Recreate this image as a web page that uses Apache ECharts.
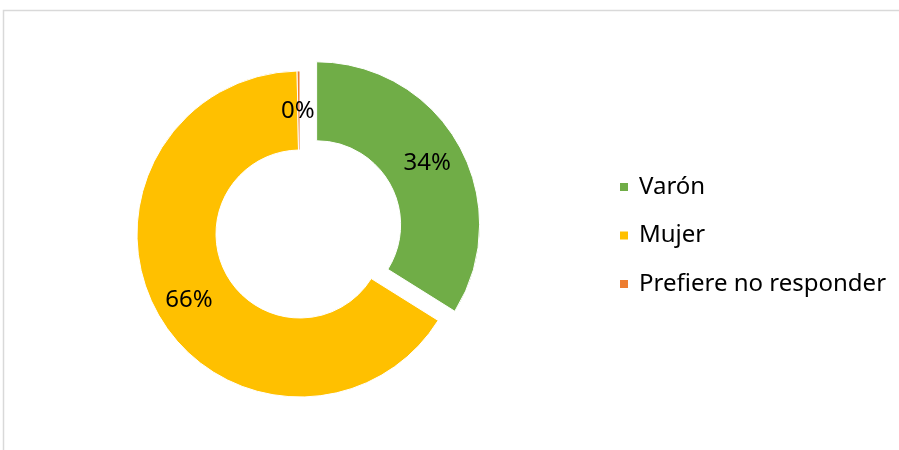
<!DOCTYPE html>
<html>
<head>
<meta charset="utf-8">
<script src="https://cdn.jsdelivr.net/npm/echarts@6/dist/echarts.min.js"></script>
<style>
  html, body { margin: 0; padding: 0; background: #fff; }
  #chart-container { width: 899px; height: 450px; }
</style>
</head>
<body>
<div id="chart-container"></div>
<script>
// datos del gráfico
var categories = ['Varón', 'Mujer', 'Prefiere no responder'];
var counts = [120, 233, 1];
var colors = ['#70AD47', '#FFC000', '#ED7D31'];

var dom = document.getElementById('chart-container');
var myChart = echarts.init(dom, null, { renderer: 'canvas' });

var pieData = categories.map(function (name, i) {
  return {
    name: name,
    value: counts[i],
    selected: i === 0, // solo "Varón" separado
    itemStyle: { color: colors[i] }
  };
});

var option = {
  animation: false,
  textStyle: { fontFamily: 'Noto Sans' },
  graphic: [
    {
      type: 'rect',
      shape: { x: 3.5, y: 10.5, width: 1000, height: 1000 },
      style: { fill: 'none', stroke: '#d9d9d9', lineWidth: 1.5 },
      silent: true
    }
  ],
  legend: {
    orient: 'vertical',
    left: 613,
    top: 170,
    itemWidth: 10,
    itemHeight: 10,
    itemGap: 24.5,
    icon: 'rect',
    textStyle: {
      fontSize: 24,
      lineHeight: 24,
      color: '#000',
      fontFamily: 'Noto Sans',
      padding: [0, 0, 0, 5]
    },
    data: categories
  },
  series: [
    {
      type: 'pie',
      center: [300, 234],
      radius: [84, 163],
      startAngle: 90,
      clockwise: true,
      selectedMode: 'multiple',
      selectedOffset: 19,
      percentPrecision: 0,
      avoidLabelOverlap: false,
      silent: true,
      itemStyle: { borderColor: '#fff', borderWidth: 1 },
      label: {
        show: true,
        position: 'inside',
        formatter: '{d}%',
        color: '#000',
        fontSize: 24,
        fontFamily: 'Noto Sans',
        offset: [-1, 4]
      },
      labelLine: { show: false },
      data: pieData
    }
  ]
};

myChart.setOption(option);
window.addEventListener('resize', myChart.resize);
</script>
</body>
</html>
